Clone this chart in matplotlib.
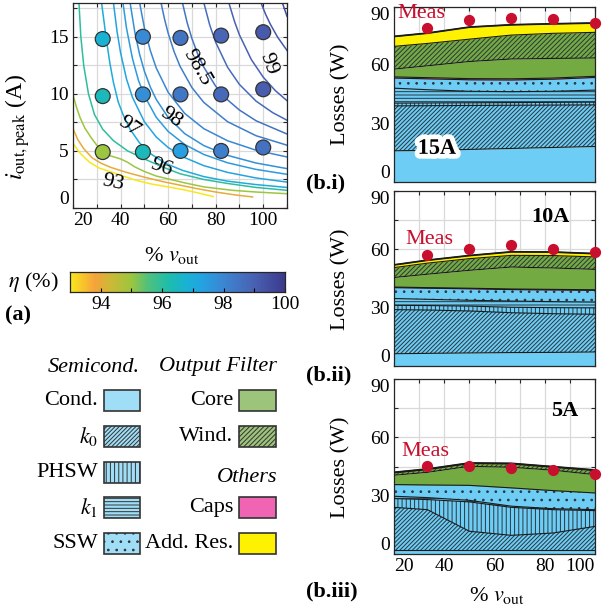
import numpy as np
import matplotlib
matplotlib.use("Agg")
import matplotlib.pyplot as plt
from matplotlib.colors import LinearSegmentedColormap, Normalize
from matplotlib.patches import Rectangle
import matplotlib.patheffects as pe

plt.rcParams["font.family"] = ["Liberation Serif", "DejaVu Serif"]
plt.rcParams["mathtext.fontset"] = "stix"
plt.rcParams["hatch.linewidth"] = 0.7

# ---------------- (a) efficiency map ----------------
eta_levels = [93, 94, 95, 96, 97, 97.25, 97.5, 97.75, 98, 98.25, 98.5, 98.75, 99, 99.25, 99.5]
contour_x = [
    [20, 23, 27, 31, 35.5, 41, 47, 53, 60, 66, 72, 79],
    [20, 22, 24.5, 28, 32, 36, 42, 50, 58, 65, 72, 80, 88, 95.5],
    [20, 21.5, 23, 25, 27.5, 30, 33, 36, 40, 43, 46, 50, 55, 60, 67, 75, 87, 97, 110],
    [22.5, 23.3, 24.5, 26.5, 29, 32.5, 37, 43, 50, 57, 65, 75, 85, 97, 110],
    [32, 33, 34, 35.5, 37, 39, 41, 44, 48, 53, 59, 66, 75, 85, 97, 110],
    [37, 38.5, 40, 42.5, 45, 50, 55, 60, 67, 75, 85, 97, 110],
    [41, 42.5, 45, 47.5, 50, 55, 60, 67, 75, 85, 97, 110],
    [44, 46, 48, 50, 52.5, 55, 60, 67, 75, 85, 97, 110],
    [48, 50, 52.5, 55, 60, 67, 75, 85, 97, 110],
    [57, 58.5, 60, 62.5, 65, 70, 75, 85, 97, 110],
    [66, 68, 70, 72.5, 75, 80, 85, 90, 97, 110],
    [75, 77.5, 80, 85, 90, 97, 104, 110],
    [85.5, 88, 90, 95, 100, 105, 110],
    [99, 101, 103, 106, 110],
    [108, 110],
]
contour_y = [
    [5.65, 4.8, 4.0, 3.5, 3.2, 2.8, 2.4, 2.1, 1.85, 1.62, 1.35, 1.0],
    [6.95, 6.0, 5.2, 4.4, 3.9, 3.55, 3.15, 2.7, 2.3, 2.0, 1.7, 1.4, 1.15, 0.97],
    [9.9, 8.8, 7.9, 7.0, 6.2, 5.5, 4.9, 4.55, 4.3, 4.0, 3.6, 3.2, 2.8, 2.55, 2.2, 1.85, 1.55, 1.4, 1.25],
    [18, 15, 12.5, 10, 8.2, 6.9, 5.9, 5.0, 4.3, 3.65, 3.0, 2.5, 2.15, 1.8, 1.55],
    [18, 16.4, 14.8, 12.7, 11.0, 9.3, 8.2, 6.9, 5.7, 4.7, 3.9, 3.3, 2.75, 2.35, 2.05, 1.8],
    [18, 15.5, 13.6, 11.3, 9.7, 7.56, 6.22, 5.3, 4.41, 3.71, 3.12, 2.63, 2.27],
    [18, 15.75, 13.1, 11.2, 9.84, 7.95, 6.71, 5.56, 4.69, 3.96, 3.38, 2.95],
    [18, 15.4, 13.47, 12.0, 10.6, 9.51, 7.94, 6.51, 5.47, 4.61, 3.94, 3.45],
    [18, 15.8, 13.8, 12.27, 10.14, 8.28, 6.95, 5.89, 5.06, 4.47],
    [18, 16.54, 15.33, 13.7, 12.42, 10.55, 9.25, 7.56, 6.33, 5.5],
    [18, 16.24, 14.85, 13.46, 12.34, 10.67, 9.47, 8.58, 7.64, 6.48],
    [18, 16.03, 14.52, 12.33, 10.82, 9.36, 8.35, 7.69],
    [18, 16.29, 15.16, 13.0, 11.46, 10.3, 9.4],
    [18, 16.97, 16.09, 14.98, 13.8],
    [18, 16.8],
]
clabel_text = ["93", "96", "97", "98", "98.5", "99"]
clabel_x = [36.9, 57.1, 43.6, 61.4, 71.9, 102.1]
clabel_y = [2.2, 3.5, 7.1, 7.9, 12.3, 12.6]
clabel_rot = [-12, -20, -35, -35, -60, -70]

# measured operating points and their efficiency
op_v = [32.5, 49.4, 65.2, 82.3, 100] * 3
op_i = [14.8, 15.0, 14.9, 15.1, 15.4,
        9.8, 9.95, 9.95, 9.95, 10.4,
        4.9, 4.9, 5.0, 5.0, 5.3]
op_eta = [96.8, 97.9, 98.5, 98.9, 99.2,
          96.4, 97.8, 98.4, 98.8, 99.1,
          95.0, 96.4, 97.4, 98.2, 98.6]

# ---------------- (b) loss breakdown ----------------
v_loss = [20, 33.3, 50, 66.7, 83.3, 100]
v_meas = [33.3, 50, 66.7, 83.3, 100]
# layer order: Cond., k0, PHSW, k1, SSW, Caps, Core, Wind., Add. Res.
losses_15A = [
    [15.8, 16.0, 16.5, 17.0, 17.5, 18.0],
    [23.1, 23.0, 22.6, 22.2, 21.8, 21.4],
    [1.4, 1.4, 1.4, 1.4, 1.4, 1.4],
    [7.7, 6.8, 5.9, 5.6, 5.7, 6.2],
    [5.2, 5.6, 5.9, 6.0, 6.2, 6.5],
    [0.6, 0.6, 0.6, 0.6, 0.6, 0.6],
    [4.0, 6.1, 8.8, 10.2, 10.1, 9.4],
    [11.7, 11.5, 11.5, 12.3, 12.9, 13.2],
    [5.1, 5.3, 6.2, 5.3, 4.9, 4.8],
]
losses_10A = [
    [6.3, 6.5, 6.7, 6.9, 7.0, 7.2],
    [22.7, 22.3, 21.6, 20.5, 19.9, 19.4],
    [2.2, 2.3, 2.5, 2.8, 3.1, 3.3],
    [3.5, 3.2, 3.0, 3.2, 3.1, 3.0],
    [5.6, 5.7, 5.9, 5.9, 6.0, 6.0],
    [0.3, 0.3, 0.3, 0.3, 0.3, 0.3],
    [4.9, 6.9, 9.2, 11.3, 11.0, 10.5],
    [5.1, 5.7, 6.0, 6.0, 6.4, 6.4],
    [1.4, 1.5, 1.6, 1.8, 1.8, 1.7],
]
losses_5A = [
    [2.0, 2.0, 2.0, 2.0, 2.0, 2.0],
    [22.0, 20.8, 9.7, 7.6, 8.8, 12.2],
    [4.5, 5.2, 15.1, 14.4, 12.0, 8.1],
    [1.2, 1.0, 0.8, 0.6, 0.5, 0.5],
    [6.0, 6.5, 7.7, 9.4, 9.3, 8.6],
    [0.0, 0.0, 0.0, 0.0, 0.0, 0.0],
    [4.8, 6.5, 9.8, 10.6, 10.5, 9.4],
    [1.2, 1.4, 1.4, 1.7, 1.5, 2.1],
    [0.3, 0.3, 0.3, 0.3, 0.3, 0.3],
]
meas_15A = [78.9, 83.2, 84.0, 83.5, 81.3]
meas_10A = [57.0, 60.4, 62.1, 60.4, 58.7]
meas_5A = [45.1, 45.5, 44.3, 43.1, 41.3]

BLUE = "#6dcdf4"
GREEN = "#74aa42"
layer_face = [BLUE, BLUE, BLUE, BLUE, BLUE, "#ee62b0", GREEN, GREEN, "#fff200"]
layer_hatch = [None, "////////", "||||", "-----", "..", None, None, "///////", None]
legend_face = ["#a0def7", "#a0def7", "#a0def7", "#a0def7", "#a0def7", "#f065b3", "#9dc47b", "#9dc47b", "#fff200"]
legend_label = ["Cond.", r"$k_0$", "PHSW", r"$k_1$", "SSW", "Caps", "Core", "Wind.", "Add. Res."]
MEAS_RED = "#c8102e"

cmap = LinearSegmentedColormap.from_list("eta", [
    (0.0, "#f8e71c"), (0.057, "#f9c52c"), (0.114, "#f5a33b"), (0.186, "#cdb936"),
    (0.286, "#9cc63f"), (0.357, "#54c17a"), (0.457, "#1ebdac"), (0.543, "#19b2d4"),
    (0.614, "#24a3e2"), (0.714, "#3b87d3"), (0.857, "#4a62b3"), (1.0, "#3c3a8d")])
norm = Normalize(93, 100)

W, H = 603, 610
fig = plt.figure(figsize=(W / 100, H / 100), dpi=100)
TICK_FS = 14
LAB_FS = 16


def px_axes(x0, y0, x1, y1):
    return fig.add_axes([x0 / W, 1 - y1 / H, (x1 - x0) / W, (y1 - y0) / H])


def style_spines(ax):
    for s in ax.spines.values():
        s.set_color("#262626")
        s.set_linewidth(0.9)
    ax.tick_params(direction="in", top=True, right=True, length=3, width=0.8,
                   color="#262626", labelsize=TICK_FS, pad=3)


# ---- panel (a)
ax = px_axes(73, 2.5, 287, 208)
ax.set_xlim(20, 110)
ax.set_ylim(0, 18)
ax.set_xticks(np.arange(20, 111, 10))
ax.set_xticklabels(["20", "", "40", "", "60", "", "80", "", "100", ""])
ax.set_yticks(np.arange(0, 18, 2.5))
ax.set_yticklabels(["0", "", "5", "", "10", "", "15", ""])
style_spines(ax)
ax.get_xticklabels()[0].set_ha("left")
ax.get_yticklabels()[0].set_va("bottom")
ax.grid(True, color="#d9d9d9", lw=0.9)
ax.set_axisbelow(True)
for lev, xs, ys in zip(eta_levels, contour_x, contour_y):
    ax.plot(xs, ys, color=cmap(norm(lev)), lw=1.1, zorder=2)
for t, x, y, r in zip(clabel_text, clabel_x, clabel_y, clabel_rot):
    ax.text(x, y, t, rotation=r, ha="center", va="center", fontsize=16, zorder=3)
ax.scatter(op_v, op_i, s=115, c=[cmap(norm(e)) for e in op_eta],
           edgecolors="#333333", linewidths=0.9, zorder=4)

# ---- colorbar
cax = px_axes(70, 272, 285, 292)
grad = np.linspace(93, 100, 400)
cax.imshow(grad[np.newaxis, :], cmap=cmap, norm=norm, aspect="auto",
           extent=[93, 100, 0, 1])
cax.set_xlim(93, 100)
cax.set_yticks([])
cax.set_xticks([94, 95, 96, 97, 98, 99, 100])
cax.set_xticklabels(["94", "", "96", "", "98", "", "100"])
for s in cax.spines.values():
    s.set_color("#262626")
    s.set_linewidth(0.9)
cax.tick_params(direction="in", length=3, width=0.8, labelsize=TICK_FS, pad=3)

# ---- panels (b)
b_axes = [px_axes(394, 6.5, 595, 181.5), px_axes(394, 191, 595, 366),
          px_axes(394, 379, 595, 554)]
b_losses = [losses_15A, losses_10A, losses_5A]
b_meas = [meas_15A, meas_10A, meas_5A]
b_tag = ["15A", "10A", "5A"]
b_tag_xy = [(37.1, 16.8), (82.1, 76.6), (88.1, 73.6)]
b_meas_xy = [(30.7, 86.3), (33.9, 65.3), (32.3, 52.5)]

for k, ax in enumerate(b_axes):
    ax.set_xlim(20, 100)
    ax.set_ylim(0, 90)
    ax.set_xticks(np.arange(20, 101, 10))
    ax.set_yticks(np.arange(0, 91, 15))
    ax.set_yticklabels(["0", "", "30", "", "60", "", "90"])
    if k == 2:
        ax.set_xticklabels(["20", "", "40", "", "60", "", "80", "", "100"])
    else:
        ax.set_xticklabels([])
    style_spines(ax)
    ax.get_yticklabels()[0].set_va("bottom")
    ax.get_yticklabels()[-1].set_va("top")
    if k == 2:
        ax.get_xticklabels()[0].set_ha("left")
        ax.get_xticklabels()[-1].set_ha("right")
    ax.grid(True, color="#d9d9d9", lw=0.9)
    ax.set_axisbelow(True)

    layers = np.array(b_losses[k])
    tops = np.cumsum(layers, axis=0)
    bottom = np.zeros(len(v_loss))
    for j in range(len(layers)):
        top = tops[j]
        ax.fill_between(v_loss, bottom, top, facecolor=layer_face[j],
                        hatch=layer_hatch[j], edgecolor="#2a3640", linewidth=0,
                        zorder=2)
        if layers[j].max() > 0:
            ax.plot(v_loss, top, color="#1a1a1a", lw=0.8, zorder=3)
        bottom = top
    ax.plot(v_loss, tops[-1], color="#1a1a1a", lw=1.3, zorder=3)

    ax.scatter(v_meas, b_meas[k], s=50, color=MEAS_RED, zorder=5, clip_on=False)
    ax.text(*b_meas_xy[k], "Meas", color=MEAS_RED, fontsize=LAB_FS, ha="center",
            va="center", zorder=6)
    t = ax.text(*b_tag_xy[k], b_tag[k], fontsize=LAB_FS, fontweight="bold",
                ha="center", va="center", zorder=6)
    if k == 0:
        t.set_path_effects([pe.withStroke(linewidth=7, foreground="white")])

# ---- overlay for free text and legend (pixel coordinates)
ov = fig.add_axes([0, 0, 1, 1])
ov.set_xlim(0, W)
ov.set_ylim(H, 0)
ov.axis("off")

ov.text(18, 127, r"$i_{\mathrm{out,peak}}$ (A)", rotation=90, ha="center",
        va="center", fontsize=17)
ov.text(172, 256, r"% $v_{\mathrm{out}}$", ha="center", va="center", fontsize=LAB_FS)
ov.text(33, 282, r"$\eta$ (%)", ha="center", va="center", fontsize=LAB_FS)
ov.text(497, 596, r"% $v_{\mathrm{out}}$", ha="center", va="center", fontsize=LAB_FS)
for yc in [94, 279, 467]:
    ov.text(341, yc, "Losses (W)", rotation=90, ha="center", va="center", fontsize=LAB_FS)
ov.text(5, 315, "(a)", fontweight="bold", fontsize=LAB_FS, ha="left", va="center")
ov.text(306, 183, "(b.i)", fontweight="bold", fontsize=LAB_FS, ha="left", va="center")
ov.text(306, 375, "(b.ii)", fontweight="bold", fontsize=LAB_FS, ha="left", va="center")
ov.text(306, 591, "(b.iii)", fontweight="bold", fontsize=LAB_FS, ha="left", va="center")

# legend
ov.text(140, 367, "Semicond.", style="italic", ha="right", va="center", fontsize=LAB_FS)
ov.text(277, 367, "Output Filter", style="italic", ha="right", va="center", fontsize=LAB_FS)
ov.text(277, 478, "Others", style="italic", ha="right", va="center", fontsize=LAB_FS)
leg_box_x = [104, 104, 104, 104, 104, 239, 239, 239, 239]
leg_box_y = [390, 426, 462, 497, 533, 497, 390, 426, 533]
for j in range(len(legend_label)):
    bx, by = leg_box_x[j], leg_box_y[j]
    ov.add_patch(Rectangle((bx, by), 36 if bx < 200 else 37, 21,
                           facecolor=legend_face[j], hatch=layer_hatch[j],
                           edgecolor="#333333", lw=1.2))
    ov.text(bx - 6, by + 10.5, legend_label[j], ha="right", va="center", fontsize=LAB_FS)

fig.savefig("out.png", dpi=100)
